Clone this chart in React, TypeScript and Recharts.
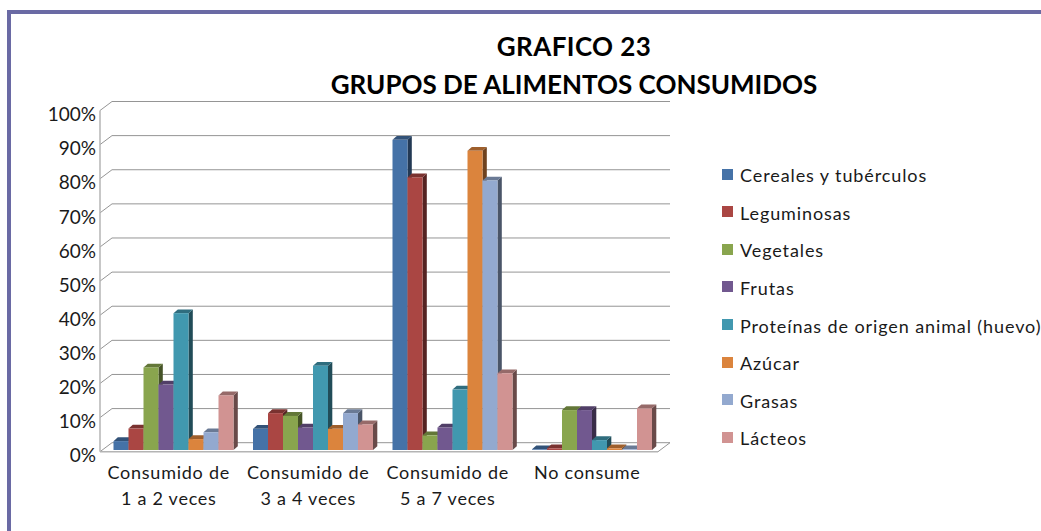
import { Bar, BarChart, CartesianGrid, Legend, XAxis, YAxis } from 'recharts';

const categories = ['Consumido de 1 a 2 veces', 'Consumido de 3 a 4 veces', 'Consumido de 5 a 7 veces', 'No consume'];
const seriesNames = [
  'Cereales y tubérculos',
  'Leguminosas',
  'Vegetales',
  'Frutas',
  'Proteínas de origen animal (huevo)',
  'Azúcar',
  'Grasas',
  'Lácteos',
];
const cereales = [2.6, 6.2, 90.9, 0.2];
const leguminosas = [6.3, 10.8, 79.9, 0.5];
const vegetales = [24.2, 10, 4.3, 11.7];
const frutas = [19.2, 6.6, 6.6, 11.7];
const proteinas = [40.1, 24.7, 17.7, 2.9];
const azucar = [3.2, 6.2, 87.7, 0.5];
const grasas = [5.2, 10.8, 79, 0.2];
const lacteos = [16, 7.5, 22.5, 12.2];
const yTicks = [0, 10, 20, 30, 40, 50, 60, 70, 80, 90, 100];

const seriesValues = [cereales, leguminosas, vegetales, frutas, proteinas, azucar, grasas, lacteos];
const COLORS = ['#4572A7', '#AA4643', '#89A54E', '#71588F', '#4198AF', '#DB843D', '#93A9CF', '#D19392'];

const data = categories.map((name, i) => {
  const row: Record<string, string | number> = { name };
  seriesNames.forEach((s, j) => {
    row[s] = seriesValues[j][i];
  });
  return row;
});

const FONT = 'Lato, sans-serif';
const GRID = '#959595';
const AXIS = '#b4b4b4';
const WALL_DX = 12;
const WALL_DY = 9;

function shade(hex: string, k: number) {
  const n = parseInt(hex.slice(1), 16);
  const c = [(n >> 16) & 255, (n >> 8) & 255, n & 255].map((v) => Math.round(v * k));
  return `rgb(${c.join(',')})`;
}

// front, top and side face of one column
function Bar3D(props: any) {
  const { x, y, width, height, fill } = props;
  const fx = x + 3;
  const fy = y - 1.7;
  const dx = 4.3;
  const dy = 3.8;
  const r = fx + width;
  const b = fy + height;
  return (
    <g>
      <polygon points={`${r},${fy} ${r + dx},${fy - dy} ${r + dx},${b - dy} ${r},${b}`} fill={shade(fill, 0.5)} />
      <polygon points={`${fx},${fy} ${fx + dx},${fy - dy} ${r + dx},${fy - dy} ${r},${fy}`} fill={shade(fill, 0.72)} />
      <rect x={fx} y={fy} width={width} height={height} fill={fill} />
    </g>
  );
}

function GridLine(props: any) {
  const { x1, x2, y1, index } = props;
  return (
    <g key={index}>
      <polyline
        points={`${x1},${y1} ${x1 + WALL_DX},${y1 - WALL_DY} ${x2 + WALL_DX},${y1 - WALL_DY}`}
        fill="none"
        stroke={GRID}
        strokeWidth={1}
      />
      {y1 > 450 && <line x1={x2} y1={y1} x2={x2 + WALL_DX} y2={y1 - WALL_DY} stroke={GRID} />}
    </g>
  );
}

function CategoryTick(props: any) {
  const { x, payload } = props;
  const text: string = payload.value;
  const cut = text.indexOf(' de ');
  const lines = cut > 0 ? [text.slice(0, cut + 3), text.slice(cut + 4)] : [text];
  return (
    <g>
      {lines.map((line, i) => (
        <text
          key={i}
          x={x - 1}
          y={479 + i * 26}
          textAnchor="middle"
          fontFamily={FONT}
          fontSize={18}
          letterSpacing={0.75}
          fill="#1a1a1a"
        >
          {line}
        </text>
      ))}
    </g>
  );
}

function LegendList() {
  return (
    <div style={{ width: 319, fontFamily: FONT, fontSize: 18, letterSpacing: 0.9, color: '#1a1a1a' }}>
      {seriesNames.map((s, i) => (
        <div key={s} style={{ height: 37.65, display: 'flex', alignItems: 'center', whiteSpace: 'nowrap' }}>
          <span style={{ width: 11, height: 11, background: COLORS[i], marginRight: 7, flex: 'none', marginTop: -2 }} />
          <span>{s}</span>
        </div>
      ))}
    </div>
  );
}

export default function App() {
  return (
    <div style={{ position: 'absolute', left: 0, top: 0, width: 1041, height: 531, overflow: 'hidden', background: '#fff' }}>
      <BarChart
        width={1041}
        height={531}
        data={data}
        margin={{ top: 110.5, right: 64, bottom: 0, left: 0 }}
        barCategoryGap={10.5}
        barGap={0}
      >
        <rect x={9} y={12} width={1200} height={800} fill="none" stroke="#6a6aa4" strokeWidth={4} />
        <text x={574} y={56} textAnchor="middle" fontFamily={FONT} fontWeight={700} fontSize={26} letterSpacing={0.4} fill="#000">
          GRAFICO 23
        </text>
        <text x={574} y={94} textAnchor="middle" fontFamily={FONT} fontWeight={700} fontSize={26} fill="#000">
          GRUPOS DE ALIMENTOS CONSUMIDOS
        </text>
        <CartesianGrid vertical={false} horizontal={GridLine as any} />
        <XAxis
          dataKey="name"
          height={79.3}
          interval={0}
          tickLine={false}
          axisLine={{ stroke: AXIS, strokeWidth: 1.5 }}
          tick={CategoryTick as any}
        />
        <YAxis
          width={100}
          domain={[0, 100]}
          ticks={yTicks}
          tickFormatter={(v: number) => `${v}%`}
          tickLine={false}
          tickSize={0}
          tickMargin={4}
          axisLine={{ stroke: AXIS, strokeWidth: 1.5 }}
          tick={{ fill: '#1a1a1a', fontFamily: FONT, fontSize: 19, dy: 4 }}
        />
        <Legend
          layout="vertical"
          align="right"
          verticalAlign="top"
          content={LegendList as any}
          wrapperStyle={{ left: 722, top: 156.2, width: 319 }}
        />
        {seriesNames.map((s, i) => (
          <Bar key={s} dataKey={s} fill={COLORS[i]} shape={Bar3D as any} isAnimationActive={false} />
        ))}
      </BarChart>
    </div>
  );
}
